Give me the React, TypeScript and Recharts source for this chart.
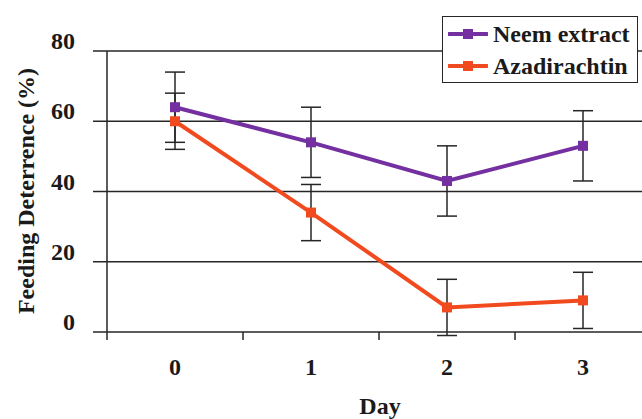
import { LineChart, Line, XAxis, YAxis, CartesianGrid, ErrorBar, Legend } from 'recharts';

const days = [0, 1, 2, 3];
const neemValues = [64, 54, 43, 53];
const neemErrors = [10, 10, 10, 10];
const azaValues = [60, 34, 7, 9];
const azaErrors = [8, 8, 8, 8];
const yTicks = [0, 20, 40, 60, 80];
// day labels plus the band edges between them
const xTicks = [-0.5, 0, 0.5, 1, 1.5, 2, 2.5, 3, 3.5];

const NEEM = '#7430a0';
const AZA = '#f24a1f';
const INK = '#262626';
const FONT = '"Liberation Serif", "Times New Roman", serif';

const data = days.map((day, i) => ({
  day,
  neem: neemValues[i],
  neemErr: neemErrors[i],
  aza: azaValues[i],
  azaErr: azaErrors[i],
}));

const series = [
  { key: 'neem', name: 'Neem extract', color: NEEM },
  { key: 'aza', name: 'Azadirachtin', color: AZA },
];

function squareDot(color: string) {
  return (props: any) => {
    const { cx, cy, index } = props;
    if (cx == null || cy == null) return null;
    return <rect key={`dot-${index}`} x={cx - 5} y={cy - 5} width={10} height={10} fill={color} />;
  };
}

function XTick(props: any) {
  const { x, y, payload } = props;
  if (Number.isInteger(payload.value)) {
    return (
      <text x={x} y={y + 43} textAnchor='middle' fontFamily={FONT} fontWeight='bold' fontSize={24} fill='#1a1a1a'>
        {payload.value}
      </text>
    );
  }
  return <line x1={x} x2={x} y1={y} y2={y + 8} stroke={INK} strokeWidth={1.5} />;
}

function YTick(props: any) {
  const { x, y, payload } = props;
  return (
    <text x={x} y={y - 2} textAnchor='end' fontFamily={FONT} fontWeight='bold' fontSize={24} fill='#1a1a1a'>
      {payload.value}
    </text>
  );
}

function LegendBox() {
  return (
    <div
      style={{
        border: `1.5px solid ${INK}`,
        background: '#fff',
        height: 67,
        boxSizing: 'border-box',
        padding: '1px 0 0 5px',
        fontFamily: FONT,
        fontWeight: 'bold',
        fontSize: 24,
        color: '#1a1a1a',
      }}
    >
      {series.map((s) => (
        <div key={s.key} style={{ display: 'flex', alignItems: 'center', height: 32 }}>
          <svg width={40} height={12} style={{ marginRight: 5 }}>
            <line x1={1} x2={39} y1={6} y2={6} stroke={s.color} strokeWidth={4} strokeLinecap='round' />
            <rect x={15} y={1} width={10} height={10} fill={s.color} />
          </svg>
          <span>{s.name}</span>
        </div>
      ))}
    </div>
  );
}

export default function App() {
  return (
    <div style={{ position: 'absolute', left: 0, top: 0, width: 642, height: 419, overflow: 'hidden', background: '#fff' }}>
      <LineChart width={660} height={419} data={data} margin={{ top: 51, right: 9, bottom: 0, left: 0 }}>
        <CartesianGrid vertical={false} stroke={INK} strokeWidth={1.5} />
        <XAxis
          dataKey='day'
          type='number'
          domain={[-0.5, 3.5]}
          ticks={xTicks}
          interval={0}
          tickSize={0}
          tickMargin={0}
          tickLine={false}
          axisLine={false}
          tick={<XTick />}
          height={87}
          label={{
            content: () => (
              <text x={380} y={414} textAnchor='middle' fontFamily={FONT} fontWeight='bold' fontSize={24} fill='#1a1a1a'>
                Day
              </text>
            ),
          }}
        />
        <YAxis
          type='number'
          domain={[0, 80]}
          allowDataOverflow
          ticks={yTicks}
          width={107}
          tickSize={14}
          tickMargin={18}
          tickLine={{ stroke: INK, strokeWidth: 1.5 }}
          axisLine={{ stroke: INK, strokeWidth: 1.5 }}
          tick={<YTick />}
          label={{
            content: () => (
              <text
                x={26}
                y={191}
                transform='rotate(-90, 26, 191)'
                textAnchor='middle'
                dominantBaseline='central'
                fontFamily={FONT}
                fontWeight='bold'
                fontSize={24}
                fill='#1a1a1a'
              >
                Feeding Deterrence (%)
              </text>
            ),
          }}
        />
        <Legend
          layout='vertical'
          align='center'
          verticalAlign='middle'
          content={<LegendBox />}
          wrapperStyle={{ left: 442, top: 16, width: 196, height: 67 }}
        />
        {series.map((s) => (
          <Line
            key={s.key}
            dataKey={s.key}
            name={s.name}
            stroke={s.color}
            strokeWidth={4}
            dot={squareDot(s.color)}
            activeDot={false}
            isAnimationActive={false}
          >
            <ErrorBar dataKey={`${s.key}Err`} width={10} stroke={INK} strokeWidth={1.5} direction='y' />
          </Line>
        ))}
      </LineChart>
    </div>
  );
}
